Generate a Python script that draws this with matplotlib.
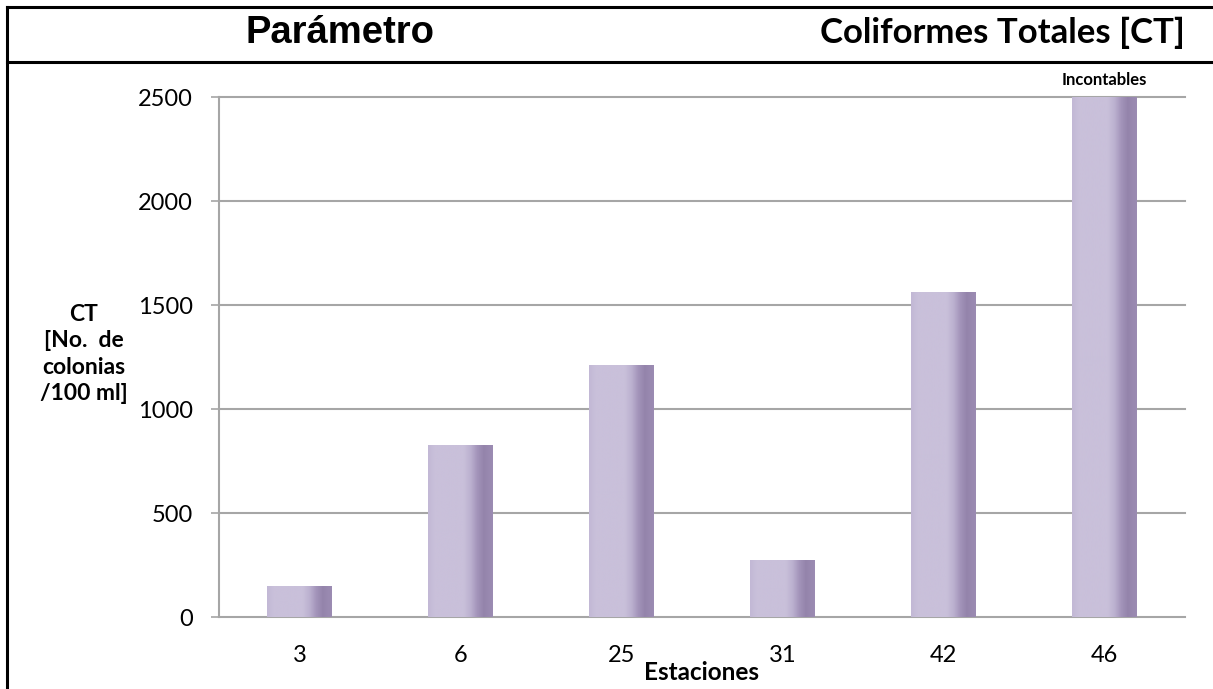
import numpy as np
import matplotlib
matplotlib.use("agg")
import matplotlib.pyplot as plt
from matplotlib.colors import LinearSegmentedColormap
from matplotlib.lines import Line2D

estaciones = ["3", "6", "25", "31", "42", "46"]
ct = [150, 827, 1210, 275, 1562, 2500]
yticks = [0, 500, 1000, 1500, 2000, 2500]

fig = plt.figure(figsize=(12.13, 6.89), dpi=100)
ax = fig.add_axes([219/1213, 1-617/689, (1185-219)/1213, (617-97)/689])

# shaded bar fill, light face with a darker right edge
shade = LinearSegmentedColormap.from_list("shade", [
    (0.0, "#C2B8D5"), (0.10, "#C9C0DA"), (0.55, "#C9C0DA"),
    (0.66, "#BBB0CF"), (0.76, "#A394BA"), (0.86, "#9484AB"), (1.0, "#9C8CB3")])
grad = np.linspace(0, 1, 256).reshape(1, -1)

x = np.arange(len(estaciones))
bars = ax.bar(x, ct, width=0.4, color="none", zorder=3)
for b in bars:
    x0, y0 = b.get_x(), b.get_y()
    im = ax.imshow(grad, cmap=shade, aspect="auto", zorder=3,
                   extent=[x0, x0 + b.get_width(), y0, y0 + b.get_height()])
    im.set_clip_path(b)

ax.set_xlim(-0.5, len(estaciones) - 0.5)
ax.set_ylim(0, 2500)
ax.set_xticks(x)
ax.set_xticklabels(estaciones)
ax.set_yticks(yticks)
for v in yticks[1:]:
    ax.axhline(v, color="#A6A6A6", lw=1.5, zorder=1, clip_on=False)

for s in ["top", "right"]:
    ax.spines[s].set_visible(False)
ax.spines["left"].set_color("#A6A6A6")
ax.spines["bottom"].set_color("#A6A6A6")
ax.spines["left"].set_linewidth(1.5)
ax.spines["bottom"].set_linewidth(1.5)
ax.tick_params(axis="y", length=6, width=1.2, color="#A6A6A6", pad=13,
               labelsize=17)
ax.tick_params(axis="x", length=0, pad=20, labelsize=17)
for lab in ax.get_xticklabels() + ax.get_yticklabels():
    lab.set_family("Lato")

ax.text(5, 2545, "Incontables", ha="center", va="bottom", fontsize=12,
        family="Lato", fontweight="bold")

fig.text(702/1213, 1-672/689, "Estaciones", ha="center", va="center",
         fontsize=17.5, family="Lato", fontweight="bold")
fig.text(84/1213, 1-354/689, "CT\n[No.  de\ncolonias\n/100 ml]", ha="center",
         va="center", fontsize=16.5, family="Lato", fontweight="bold",
         linespacing=1.3)

# header band
fig.text(340/1213, 1-33/689, "Parámetro", ha="center", va="center",
         fontsize=27.5, family="Liberation Sans", fontweight="bold")
fig.text(1002/1213, 1-33/689, "Coliformes Totales [CT]", ha="center",
         va="center", fontsize=25, family="Lato", fontweight="bold")
for yy in [1-6.5/689, 1-62/689]:
    fig.add_artist(Line2D([7/1213, 1], [yy, yy], color="black", lw=2.2))
fig.add_artist(Line2D([7/1213, 7/1213], [0, 1-6.5/689], color="black", lw=2.2))

fig.savefig("out.png", dpi=100)
